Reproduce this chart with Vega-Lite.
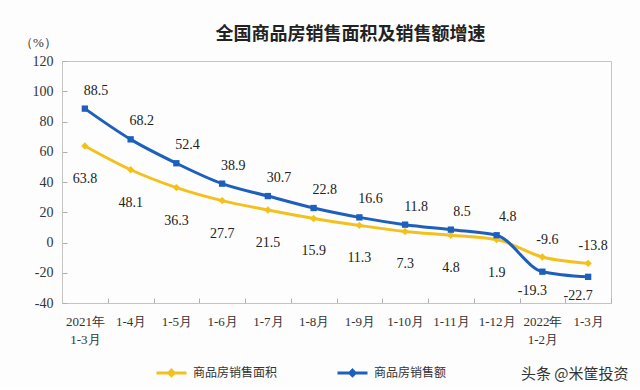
{
  "$schema": "https://vega.github.io/schema/vega-lite/v6.json",
  "autosize": {"type": "none"},
  "width": 549,
  "height": 242,
  "padding": {"left": 62, "top": 61, "right": 29, "bottom": 86},
  "background": "#fdfdfd",
  "config": {
    "view": {"stroke": "#c4c4c4", "strokeWidth": 1},
    "font": "Liberation Serif"
  },
  "title": {
    "text": "全国商品房销售面积及销售额增速",
    "font": "Noto Sans CJK SC",
    "fontSize": 18,
    "fontWeight": "bold",
    "color": "#222222",
    "anchor": "middle",
    "dx": 14,
    "offset": -8
  },
  "data": {
    "values": [
      {"period": "2021年|1-3月", "series": "商品房销售面积", "value": 63.8},
      {"period": "1-4月", "series": "商品房销售面积", "value": 48.1},
      {"period": "1-5月", "series": "商品房销售面积", "value": 36.3},
      {"period": "1-6月", "series": "商品房销售面积", "value": 27.7},
      {"period": "1-7月", "series": "商品房销售面积", "value": 21.5},
      {"period": "1-8月", "series": "商品房销售面积", "value": 15.9},
      {"period": "1-9月", "series": "商品房销售面积", "value": 11.3},
      {"period": "1-10月", "series": "商品房销售面积", "value": 7.3},
      {"period": "1-11月", "series": "商品房销售面积", "value": 4.8},
      {"period": "1-12月", "series": "商品房销售面积", "value": 1.9},
      {"period": "2022年|1-2月", "series": "商品房销售面积", "value": -9.6},
      {"period": "1-3月", "series": "商品房销售面积", "value": -13.8},
      {"period": "2021年|1-3月", "series": "商品房销售额", "value": 88.5},
      {"period": "1-4月", "series": "商品房销售额", "value": 68.2},
      {"period": "1-5月", "series": "商品房销售额", "value": 52.4},
      {"period": "1-6月", "series": "商品房销售额", "value": 38.9},
      {"period": "1-7月", "series": "商品房销售额", "value": 30.7},
      {"period": "1-8月", "series": "商品房销售额", "value": 22.8},
      {"period": "1-9月", "series": "商品房销售额", "value": 16.6},
      {"period": "1-10月", "series": "商品房销售额", "value": 11.8},
      {"period": "1-11月", "series": "商品房销售额", "value": 8.5},
      {"period": "1-12月", "series": "商品房销售额", "value": 4.8},
      {"period": "2022年|1-2月", "series": "商品房销售额", "value": -19.3},
      {"period": "1-3月", "series": "商品房销售额", "value": -22.7}
    ]
  },
  "transform": [{"calculate": "'' + datum.value", "as": "lbl"}],
  "encoding": {
    "x": {
      "field": "period",
      "type": "ordinal",
      "sort": null,
      "scale": {"paddingInner": 0, "paddingOuter": 0},
      "axis": {
        "title": "头条 @米筐投资",
        "titleFont": "Noto Sans CJK SC",
        "titleFontSize": 15,
        "titleFontWeight": "normal",
        "titleColor": "#333333",
        "titleAnchor": "end",
        "titleAlign": "right",
        "titleBaseline": "middle",
        "titleX": 566,
        "titleY": 70,
        "labelExpr": "split(datum.label, '|')",
        "labelAngle": 0,
        "labelFont": "Liberation Serif",
        "labelFontSize": 13,
        "labelColor": "#333333",
        "labelPadding": 17,
        "labelLineHeight": 18,
        "tickBand": "extent",
        "tickSize": -5,
        "tickColor": "#b0b0b0",
        "domainColor": "#c4c4c4",
        "grid": false
      }
    },
    "y": {
      "field": "value",
      "type": "quantitative",
      "scale": {"domain": [-40, 120], "nice": false},
      "axis": {
        "title": "（%）",
        "titleFont": "Liberation Serif",
        "titleFontSize": 13,
        "titleFontWeight": "normal",
        "titleColor": "#333333",
        "titleAngle": 0,
        "titleAlign": "center",
        "titleX": -24,
        "titleY": -12,
        "values": [-40, -20, 0, 20, 40, 60, 80, 100, 120],
        "labelExpr": "'' + datum.value",
        "labelFont": "Liberation Serif",
        "labelFontSize": 14,
        "labelColor": "#333333",
        "labelPadding": 14,
        "tickSize": -5,
        "tickColor": "#b0b0b0",
        "domainColor": "#c4c4c4",
        "grid": false
      }
    }
  },
  "layer": [
    {
      "mark": {"type": "line", "interpolate": "monotone", "strokeWidth": 3},
      "encoding": {
        "color": {
          "field": "series",
          "type": "nominal",
          "scale": {"domain": ["商品房销售面积", "商品房销售额"], "range": ["#f4c11c", "#1d5fbd"]},
          "legend": {
            "title": null,
            "orient": "none",
            "legendX": 93,
            "legendY": 295,
            "direction": "horizontal",
            "symbolType": "M-1,0H1M0,-0.18L0.18,0L0,0.18L-0.18,0Z",
            "symbolSize": 900,
            "symbolStrokeWidth": 3,
            "labelFont": "Noto Sans CJK SC",
            "labelFontSize": 12,
            "labelColor": "#333333",
            "columnPadding": 53,
            "labelOffset": 5
          }
        }
      }
    },
    {
      "transform": [{"filter": "datum.series == '商品房销售面积'"}],
      "mark": {"type": "point", "shape": "diamond", "filled": true, "size": 55, "color": "#f4c11c", "opacity": 1}
    },
    {
      "transform": [{"filter": "datum.series == '商品房销售额'"}],
      "mark": {"type": "point", "shape": "square", "filled": true, "size": 40, "color": "#1d5fbd", "opacity": 1}
    },
    {
      "transform": [{"filter": "datum.series == '商品房销售额' && datum.value >= 0"}],
      "mark": {"type": "text", "dx": 11, "dy": -18, "fontSize": 14, "font": "Liberation Serif", "color": "#222222"},
      "encoding": {"text": {"field": "lbl", "type": "nominal"}}
    },
    {
      "transform": [{"filter": "datum.series == '商品房销售额' && datum.value < 0"}],
      "mark": {"type": "text", "dx": -10, "dy": 19, "fontSize": 14, "font": "Liberation Serif", "color": "#222222"},
      "encoding": {"text": {"field": "lbl", "type": "nominal"}}
    },
    {
      "transform": [{"filter": "datum.series == '商品房销售面积' && datum.value >= 0"}],
      "mark": {"type": "text", "dx": 0, "dy": 33, "fontSize": 14, "font": "Liberation Serif", "color": "#222222"},
      "encoding": {"text": {"field": "lbl", "type": "nominal"}}
    },
    {
      "transform": [{"filter": "datum.series == '商品房销售面积' && datum.value < 0"}],
      "mark": {"type": "text", "dx": 5, "dy": -17, "fontSize": 14, "font": "Liberation Serif", "color": "#222222"},
      "encoding": {"text": {"field": "lbl", "type": "nominal"}}
    }
  ]
}
